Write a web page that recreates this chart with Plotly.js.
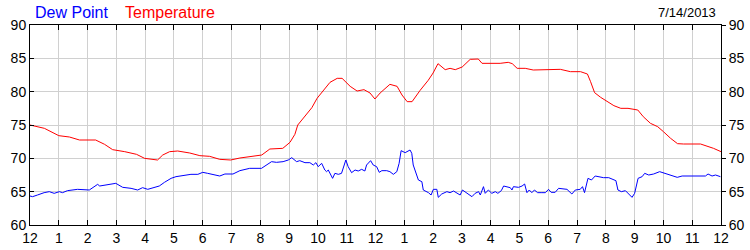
<!DOCTYPE html>
<html>
<head>
<meta charset="utf-8">
<script src="https://cdn.plot.ly/plotly-3.0.1.min.js"></script>
<style>html,body{margin:0;padding:0;background:#fff;}#chart{width:750px;height:250px;}</style>
</head>
<body>
<div id="chart"></div>
<script>
// Hours since midnight, 7/14/2013
const tempHours = [0.00,0.50,1.00,1.37,1.72,2.28,2.59,2.87,3.29,3.70,3.98,4.23,4.43,4.61,4.85,5.13,5.55,5.90,6.24,6.59,6.97,7.29,7.63,8.05,8.33,8.78,9.03,9.20,9.30,9.55,9.79,9.97,10.18,10.42,10.67,10.84,11.12,11.36,11.60,11.81,11.98,12.16,12.50,12.75,12.92,13.10,13.27,13.55,13.83,14.00,14.17,14.42,14.59,14.77,15.01,15.29,15.57,15.70,16.33,16.61,16.75,16.92,17.20,17.48,18.42,18.77,19.12,19.36,19.47,19.61,19.82,20.07,20.28,20.52,20.77,21.11,21.30,21.55,21.80,22.00,22.25,22.49,22.70,23.29,23.53,23.74,24.00];
const tempValues = [75.0,74.5,73.4,73.2,72.75,72.75,72.1,71.3,71.0,70.6,70.0,69.85,69.75,70.5,71.0,71.1,70.8,70.4,70.3,69.85,69.75,70.05,70.3,70.5,71.4,71.5,72.4,73.6,75.0,76.4,77.6,79.0,80.2,81.4,82.0,82.0,80.8,80.1,80.3,79.8,78.9,79.8,81.1,80.8,79.5,78.5,78.5,80.2,81.7,82.8,84.2,83.3,83.5,83.3,83.7,84.85,84.9,84.25,84.25,84.4,84.2,83.5,83.5,83.25,83.35,83.0,83.0,82.65,81.5,79.85,79.15,78.5,77.9,77.5,77.5,77.25,76.25,75.25,74.75,74.0,73.0,72.2,72.15,72.15,71.85,71.5,71.0];

const dewHours = [0.00,0.09,0.26,0.49,0.67,0.84,1.02,1.13,1.30,1.65,2.06,2.17,2.35,2.42,2.70,2.98,3.22,3.51,3.74,3.91,4.09,4.26,4.49,4.67,4.90,5.07,5.36,5.59,5.83,6.00,6.17,6.36,6.59,6.77,7.05,7.29,7.63,8.04,8.22,8.39,8.56,8.79,8.97,9.09,9.26,9.37,9.55,9.72,9.84,9.93,10.01,10.13,10.24,10.30,10.36,10.51,10.59,10.71,10.82,10.97,11.05,11.17,11.29,11.40,11.52,11.63,11.69,11.83,11.92,12.04,12.13,12.22,12.39,12.50,12.62,12.74,12.82,12.89,13.03,13.20,13.26,13.31,13.43,13.49,13.61,13.66,13.84,13.93,14.01,14.13,14.18,14.30,14.48,14.59,14.71,14.82,14.94,15.02,15.17,15.35,15.46,15.58,15.64,15.75,15.81,15.92,16.04,16.16,16.25,16.37,16.45,16.56,16.68,16.74,16.79,16.97,17.09,17.18,17.26,17.34,17.43,17.52,17.63,17.78,17.90,18.01,18.10,18.24,18.36,18.65,18.82,18.94,19.11,19.19,19.26,19.38,19.50,19.63,19.77,19.92,20.10,20.27,20.35,20.42,20.54,20.68,20.79,20.91,21.00,21.12,21.26,21.35,21.49,21.66,21.87,22.07,22.30,22.48,22.65,23.46,23.55,23.69,23.81,23.98];
const dewValues = [64.35,64.25,64.5,64.85,65.0,64.75,65.0,64.85,65.15,65.35,65.25,65.6,66.1,65.85,66.0,66.25,65.65,65.5,65.25,65.6,65.35,65.6,65.85,66.4,67.0,67.25,67.5,67.6,67.6,67.9,67.75,67.6,67.35,67.65,67.65,68.15,68.5,68.5,69.0,69.5,69.4,69.5,69.75,70.1,69.5,69.65,69.35,69.35,69.0,69.35,68.75,69.25,68.25,68.0,68.25,67.0,67.75,67.6,67.75,69.75,68.75,67.85,68.25,68.1,68.35,68.1,69.0,69.65,69.0,68.75,67.9,68.15,68.15,68.0,67.6,68.0,69.25,71.15,70.85,71.25,70.75,69.0,67.5,66.75,66.5,65.25,64.85,64.5,65.35,65.35,64.15,64.65,65.0,64.85,65.1,64.85,64.5,65.25,64.85,64.25,64.75,65.0,64.5,65.75,64.75,65.25,64.75,65.0,64.75,65.15,65.85,65.75,65.6,65.25,65.75,65.65,65.85,66.15,64.85,65.25,64.85,65.25,64.85,64.85,64.85,65.35,64.9,64.9,65.5,65.35,64.65,65.25,65.35,65.75,64.85,67.0,66.75,67.35,67.25,67.1,67.1,66.75,66.65,65.25,65.0,65.15,64.65,64.15,64.75,67.0,67.25,67.75,67.5,67.65,68.0,67.75,67.35,67.15,67.35,67.35,67.65,67.35,67.5,67.25];

const hourTicks = [0,1,2,3,4,5,6,7,8,9,10,11,12,13,14,15,16,17,18,19,20,21,22,23,24];
const hourLabels = ["12","1","2","3","4","5","6","7","8","9","10","11","12","1","2","3","4","5","6","7","8","9","10","11","12"];
const yTicks = [60,65,70,75,80,85,90];
const seriesNames = ["Dew Point","Temperature"];
const dateLabel = "7/14/2013";

const font = {family: "Arial, 'Liberation Sans', sans-serif", size: 14, color: "#000"};

const traces = [
  {x: dewHours, y: dewValues, type: "scatter", mode: "lines", name: seriesNames[0],
   line: {color: "#0000ff", width: 1}, xaxis: "x", yaxis: "y", hoverinfo: "skip"},
  {x: tempHours, y: tempValues, type: "scatter", mode: "lines", name: seriesNames[1],
   line: {color: "#ff0000", width: 1}, xaxis: "x", yaxis: "y2", hoverinfo: "skip"}
];

const layout = {
  width: 750, height: 250,
  margin: {l: 30, r: 29, t: 25, b: 25, pad: 0},
  paper_bgcolor: "#fff", plot_bgcolor: "#fff",
  showlegend: false,
  font: font,
  xaxis: {
    range: [0, 24], tickmode: "array", tickvals: hourTicks, ticktext: hourLabels,
    showgrid: true, gridcolor: "#d0d0d0", gridwidth: 1, zeroline: false,
    showline: true, linecolor: "#000", linewidth: 1, mirror: "ticks",
    ticks: "inside", ticklen: 5, tickcolor: "#000", tickfont: font
  },
  yaxis: {
    range: [60, 90], tickmode: "array", tickvals: yTicks,
    showgrid: true, gridcolor: "#d0d0d0", gridwidth: 1, zeroline: false,
    showline: true, linecolor: "#000", linewidth: 1, mirror: true,
    ticks: "inside", ticklen: 4, tickcolor: "#000", tickfont: font, side: "left"
  },
  yaxis2: {
    range: [60, 90], tickmode: "array", tickvals: yTicks, overlaying: "y", side: "right",
    showgrid: false, zeroline: false, showline: false,
    ticks: "outside", ticklen: 4, tickcolor: "#000", tickfont: font
  },
  annotations: [
    {text: seriesNames[0], xref: "paper", yref: "paper", x: 0.004, y: 1.065, xanchor: "left", yanchor: "middle",
     showarrow: false, font: {family: font.family, size: 16, color: "#0000ff"}},
    {text: seriesNames[1], xref: "paper", yref: "paper", x: 0.134, y: 1.065, xanchor: "left", yanchor: "middle",
     showarrow: false, font: {family: font.family, size: 16, color: "#ff0000"}},
    {text: dateLabel, xref: "paper", yref: "paper", x: 0.996, y: 1.06, xanchor: "right", yanchor: "middle",
     showarrow: false, font: {family: font.family, size: 13, color: "#000"}}
  ]
};

Plotly.newPlot("chart", traces, layout, {staticPlot: true, displayModeBar: false});
</script>
</body>
</html>
